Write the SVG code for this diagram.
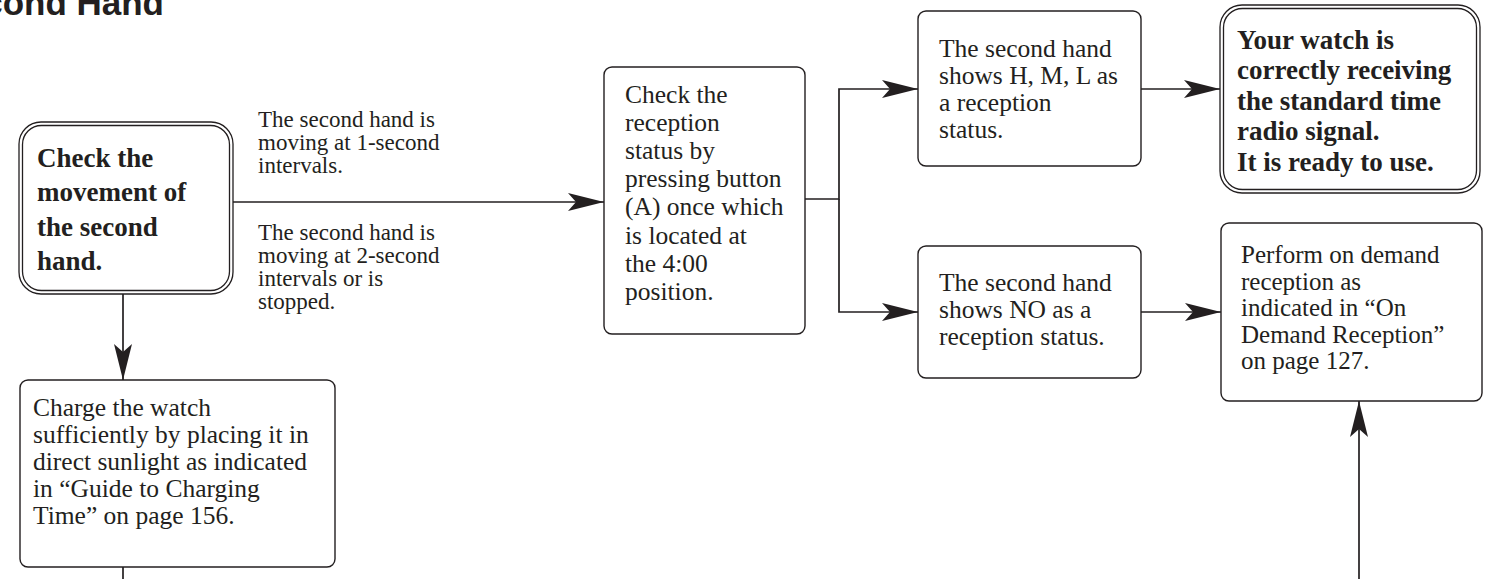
<svg xmlns="http://www.w3.org/2000/svg" width="1487" height="579" viewBox="0 0 1487 579">
<style>
.box{fill:#fff;stroke:#231f20;stroke-width:1.4}
.dbl{fill:none;stroke:#231f20;stroke-width:1.3}
.t{font-family:"Liberation Serif","Times New Roman",serif;font-size:25.5px;fill:#231f20}
.t2{font-family:"Liberation Serif","Times New Roman",serif;font-size:25px;fill:#231f20}
.b{font-family:"Liberation Serif","Times New Roman",serif;font-size:27px;font-weight:bold;fill:#231f20}
.lbl{font-family:"Liberation Serif","Times New Roman",serif;font-size:23px;fill:#231f20}
.title{font-family:"Liberation Sans",Arial,sans-serif;font-size:35px;font-weight:bold;fill:#231f20}
.c{fill:none;stroke:#231f20;stroke-width:1.7}
</style>
<defs>
<marker id="ah" viewBox="0 0 36 18" refX="36" refY="9" markerWidth="36" markerHeight="18" markerUnits="userSpaceOnUse" orient="auto">
<path d="M0,0 L36,9 L0,18 L8,9 Z" fill="#231f20"/>
</marker>
</defs>
<rect width="1487" height="579" fill="#fff"/>
<text class="title" x="164" y="15" text-anchor="end">Second Hand</text>

<g id="connectors">
<path class="c" d="M233,202 H604" marker-end="url(#ah)"/>
<path class="c" d="M123,294 V380" marker-end="url(#ah)"/>
<path class="c" d="M123,567 V579"/>
<path class="c" d="M805,199 H839 V89 H918" marker-end="url(#ah)"/>
<path class="c" d="M839,199 V312 H918" marker-end="url(#ah)"/>
<path class="c" d="M1141,89 H1220" marker-end="url(#ah)"/>
<path class="c" d="M1141,312 H1221" marker-end="url(#ah)"/>
<path class="c" d="M1359,579 V401" marker-end="url(#ah)"/>
</g>

<g id="labels">
<text class="lbl"><tspan x="258" y="127">The second hand is</tspan><tspan x="258" y="150">moving at 1-second</tspan><tspan x="258" y="173">intervals.</tspan></text>
<text class="lbl"><tspan x="258" y="240">The second hand is</tspan><tspan x="258" y="263">moving at 2-second</tspan><tspan x="258" y="286">intervals or is</tspan><tspan x="258" y="309">stopped.</tspan></text>
</g>

<g id="node-check-movement">
<rect class="dbl" x="19" y="122" width="214" height="172" rx="22"/>
<rect class="dbl" x="22.5" y="125.5" width="207" height="165" rx="19"/>
<text class="b"><tspan x="37" y="167">Check the</tspan><tspan x="37" y="201">movement of</tspan><tspan x="37" y="236">the second</tspan><tspan x="37" y="270">hand.</tspan></text>
</g>

<g id="node-check-reception">
<rect class="box" x="604" y="67" width="201" height="267" rx="8"/>
<text class="t"><tspan x="625" y="103">Check the</tspan><tspan x="625" y="131">reception</tspan><tspan x="625" y="159">status by</tspan><tspan x="625" y="187">pressing button</tspan><tspan x="625" y="215">(A) once which</tspan><tspan x="625" y="244">is located at</tspan><tspan x="625" y="272">the 4:00</tspan><tspan x="625" y="300">position.</tspan></text>
</g>

<g id="node-hml">
<rect class="box" x="918" y="11" width="223" height="155" rx="8"/>
<text class="t"><tspan x="939" y="57">The second hand</tspan><tspan x="939" y="84">shows H, M, L as</tspan><tspan x="939" y="111">a reception</tspan><tspan x="939" y="138">status.</tspan></text>
</g>

<g id="node-no">
<rect class="box" x="918" y="246" width="223" height="132" rx="8"/>
<text class="t"><tspan x="939" y="291">The second hand</tspan><tspan x="939" y="318">shows NO as a</tspan><tspan x="939" y="345">reception status.</tspan></text>
</g>

<g id="node-ready">
<rect class="dbl" x="1220" y="5" width="260" height="188" rx="22"/>
<rect class="dbl" x="1223.5" y="8.5" width="253" height="181" rx="19"/>
<text class="b"><tspan x="1237" y="49">Your watch is</tspan><tspan x="1237" y="79">correctly receiving</tspan><tspan x="1237" y="110">the standard time</tspan><tspan x="1237" y="140">radio signal.</tspan><tspan x="1237" y="171">It is ready to use.</tspan></text>
</g>

<g id="node-on-demand">
<rect class="box" x="1221" y="223" width="261" height="178" rx="8"/>
<text class="t2"><tspan x="1241" y="263">Perform on demand</tspan><tspan x="1241" y="289.5">reception as</tspan><tspan x="1241" y="316">indicated in “On</tspan><tspan x="1241" y="342.5">Demand Reception”</tspan><tspan x="1241" y="369">on page 127.</tspan></text>
</g>

<g id="node-charge">
<rect class="box" x="20" y="380" width="315" height="187" rx="8"/>
<text class="t"><tspan x="33" y="416">Charge the watch</tspan><tspan x="33" y="443">sufficiently by placing it in</tspan><tspan x="33" y="470">direct sunlight as indicated</tspan><tspan x="33" y="497">in “Guide to Charging</tspan><tspan x="33" y="524">Time” on page 156.</tspan></text>
</g>
</svg>
